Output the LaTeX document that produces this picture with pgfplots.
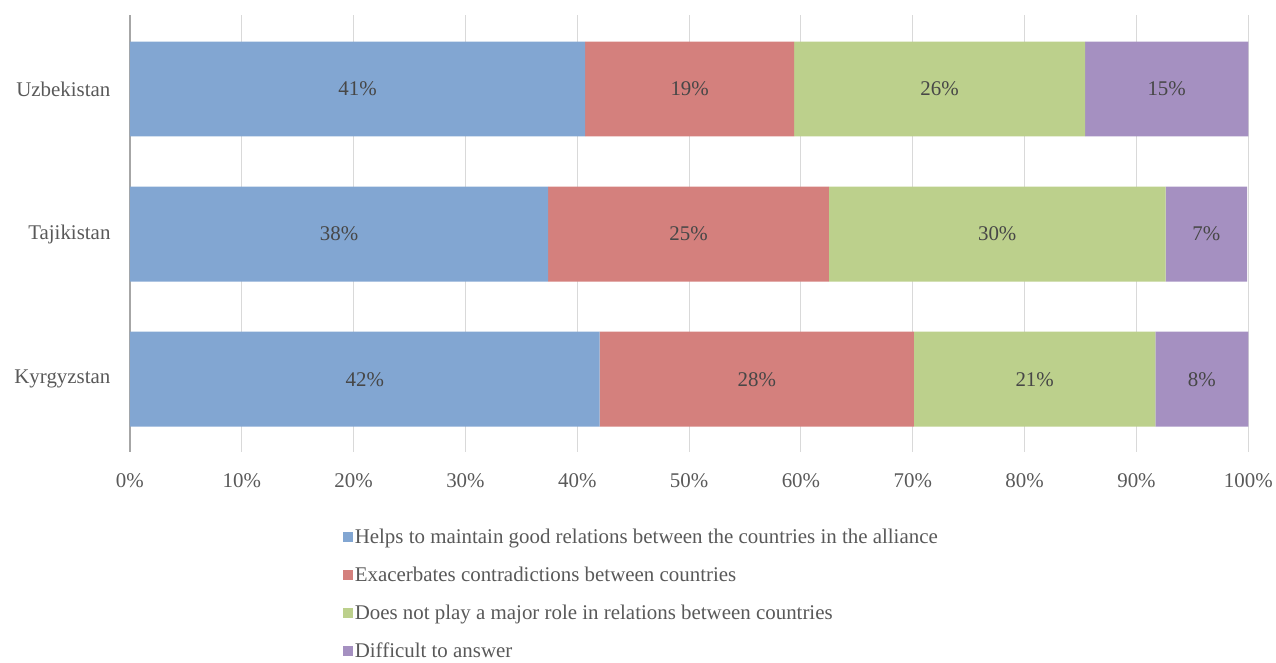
\documentclass[border=0pt]{standalone}
\usepackage{pgfplots}
\pgfplotsset{compat=1.18}
\usepackage{fontspec}
\setmainfont{Liberation Serif}
\definecolor{cBlue}{HTML}{82A6D2}
\definecolor{cRed}{HTML}{D4807D}
\definecolor{cGreen}{HTML}{BCD08C}
\definecolor{cPurple}{HTML}{A590C1}
\definecolor{txt}{HTML}{595959}
\begin{document}
\begin{tikzpicture}[x=1bp,y=1bp]
\path (0,0) rectangle (1276,657);
\begin{axis}[
    at={(130bp,205bp)}, anchor=south west,
    scale only axis,
    width=1119bp, height=437bp,
    xbar stacked,
    bar width=95bp,
    xmin=0, xmax=100,
    ymin=-0.5, ymax=2.51,
    xtick={0,10,...,100},
    xticklabel={\pgfmathprintnumber{\tick}\%},
    ytick={0,1,2},
    yticklabels={Kyrgyzstan,Tajikistan,Uzbekistan},
    axis lines*=left,
    x axis line style={draw=none},
    y axis line style={draw=black!35, line width=1.2pt},
    major tick length=0pt,
    xmajorgrids,
    grid style={black!15, line width=1pt},
    tick label style={font=\fontsize{21}{24}\selectfont, text=txt},
    xticklabel style={yshift=-18bp},
    yticklabel style={xshift=-16bp},
    /pgf/number format/assume math mode=true,
    point meta=explicit symbolic,
    nodes near coords={\pgfplotspointmeta\%},
    every node near coord/.append style={font=\fontsize{21}{24}\selectfont, text=black!72},
    legend style={at={(0.1875,-0.167)}, anchor=north west, draw=none,
        font=\fontsize{21}{24}\selectfont, text=txt, row sep=18bp,
        /tikz/every even column/.append style={column sep=0bp}},
    legend cell align=left,
    legend image code/.code={\fill[#1] (0bp,-5bp) rectangle (10bp,5bp);},
]
\addplot[fill=cBlue, draw=none] coordinates {(42.0,0)[42] (37.4,1)[38] (40.7,2)[41]};
\addplot[fill=cRed, draw=none] coordinates {(28.1,0)[28] (25.1,1)[25] (18.7,2)[19]};
\addplot[fill=cGreen, draw=none] coordinates {(21.6,0)[21] (30.1,1)[30] (26.0,2)[26]};
\addplot[fill=cPurple, draw=none] coordinates {(8.3,0)[8] (7.3,1)[7] (14.6,2)[15]};
\legend{Helps to maintain good relations between the countries in the alliance,
Exacerbates contradictions between countries,
Does not play a major role in relations between countries,
Difficult to answer}
\end{axis}
\end{tikzpicture}
\end{document}
